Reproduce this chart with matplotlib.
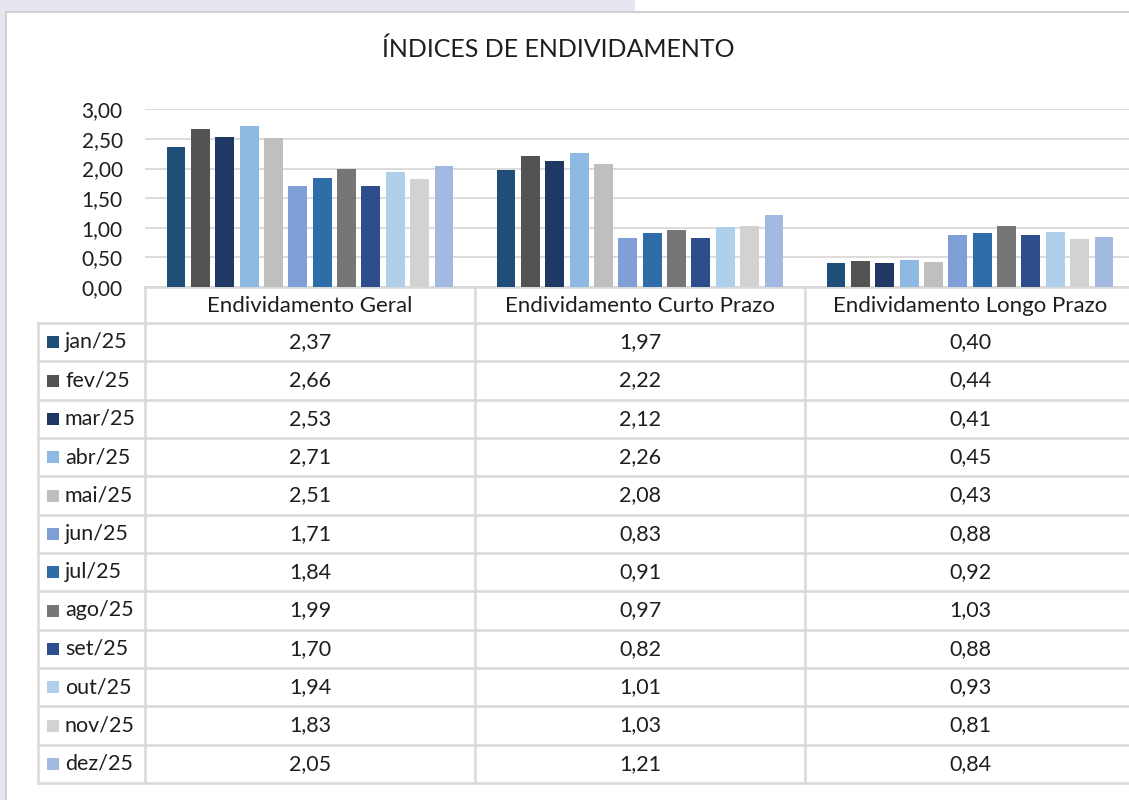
"""Debt ratio chart with data table, Excel style."""

import matplotlib

matplotlib.use("Agg")
import matplotlib.pyplot as plt
from matplotlib.patches import Rectangle

plt.rcParams["font.family"] = ["Lato", "DejaVu Sans"]

# --- data -------------------------------------------------------------------
categories = ["Endividamento Geral", "Endividamento Curto Prazo", "Endividamento Longo Prazo"]
months = ["jan/25", "fev/25", "mar/25", "abr/25", "mai/25", "jun/25",
          "jul/25", "ago/25", "set/25", "out/25", "nov/25", "dez/25"]
geral = [2.37, 2.66, 2.53, 2.71, 2.51, 1.71, 1.84, 1.99, 1.70, 1.94, 1.83, 2.05]
curto = [1.97, 2.22, 2.12, 2.26, 2.08, 0.83, 0.91, 0.97, 0.82, 1.01, 1.03, 1.21]
longo = [0.40, 0.44, 0.41, 0.45, 0.43, 0.88, 0.92, 1.03, 0.88, 0.93, 0.81, 0.84]
yticks = [0.0, 0.5, 1.0, 1.5, 2.0, 2.5, 3.0]
title = "ÍNDICES DE ENDIVIDAMENTO"

colors = ["#1f4e79", "#535353", "#203864", "#8db9e3", "#bfbfbf", "#7f9fd6",
          "#2e6da8", "#767676", "#2e4d8c", "#afcfeb", "#d2d2d2", "#a2b9e2"]

W, H = 1129, 800
GRID = "#d9d9d9"
TEXT = "#1e1e1e"

fig = plt.figure(figsize=(W / 100, H / 100), dpi=100)

# overlay in pixel coordinates for frame, table and legend
ov = fig.add_axes([0, 0, 1, 1])
ov.set_xlim(0, W)
ov.set_ylim(H, 0)
ov.set_axis_off()

# slide background strips around the chart frame
ov.add_patch(Rectangle((0, 0), 635, 12, color="#e6e6f0", lw=0))
ov.add_patch(Rectangle((0, 0), 6, H, color="#e6e6f0", lw=0))
ov.plot([6, W], [12, 12], color="#d0d0d0", lw=1.5)
ov.plot([6, 6], [12, H], color="#d0d0d0", lw=1.5)

ov.text(558, 49, title, ha="center", va="center", fontsize=18, color=TEXT)

# bar plot area
x0, x1 = 145, 1135
y_zero, y_top = 287, 109.3
ax = fig.add_axes([x0 / W, 1 - y_zero / H, (x1 - x0) / W, (y_zero - y_top) / H])
ax.set_xlim(-0.5, 2.5)
ax.set_ylim(0, 3)
ax.set_facecolor("none")
for s in ax.spines.values():
    s.set_visible(False)
ax.set_xticks([])
ax.set_yticks(yticks)
ax.set_yticklabels([f"{v:.2f}".replace(".", ",") for v in yticks], fontsize=15, color=TEXT)
ax.tick_params(axis="y", length=0, pad=16)
ax.grid(axis="y", color=GRID, lw=1.3)
ax.set_axisbelow(True)

pitch = 24.36 / 330
bw = 18.9 / 330
series = [geral, curto, longo]
for j, m in enumerate(months):
    xs = [i + (j - 5.5) * pitch for i in range(len(categories))]
    ax.bar(xs, [s[j] for s in series], width=bw, color=colors[j], zorder=3)

# data table
col_w = 330
row_top = 323
row_h = (783 - 323) / len(months)
bottom = row_top + row_h * len(months)
ov.plot([x0, W], [y_zero, y_zero], color=GRID, lw=1.8)
for k in range(len(months) + 1):
    y = row_top + k * row_h
    ov.plot([38, W], [y, y], color=GRID, lw=1.8)
ov.plot([38, 38], [row_top, bottom], color=GRID, lw=1.8)
for c in range(len(categories)):
    xv = x0 + c * col_w
    ov.plot([xv, xv], [y_zero, bottom], color=GRID, lw=1.8)
    ov.text(xv + col_w / 2, (y_zero + row_top) / 2 + 1, categories[c],
            ha="center", va="center", fontsize=16, color=TEXT)

for j, m in enumerate(months):
    yc = row_top + (j + 0.5) * row_h
    ov.add_patch(Rectangle((47, yc - 6), 12, 12, color=colors[j], lw=0))
    ov.text(65, yc, m, ha="left", va="center", fontsize=15.5, color=TEXT)
    for c, s in enumerate(series):
        ov.text(x0 + c * col_w + col_w / 2, yc, f"{s[j]:.2f}".replace(".", ","),
                ha="center", va="center", fontsize=15.5, color=TEXT)

fig.savefig("out.png", dpi=100)
